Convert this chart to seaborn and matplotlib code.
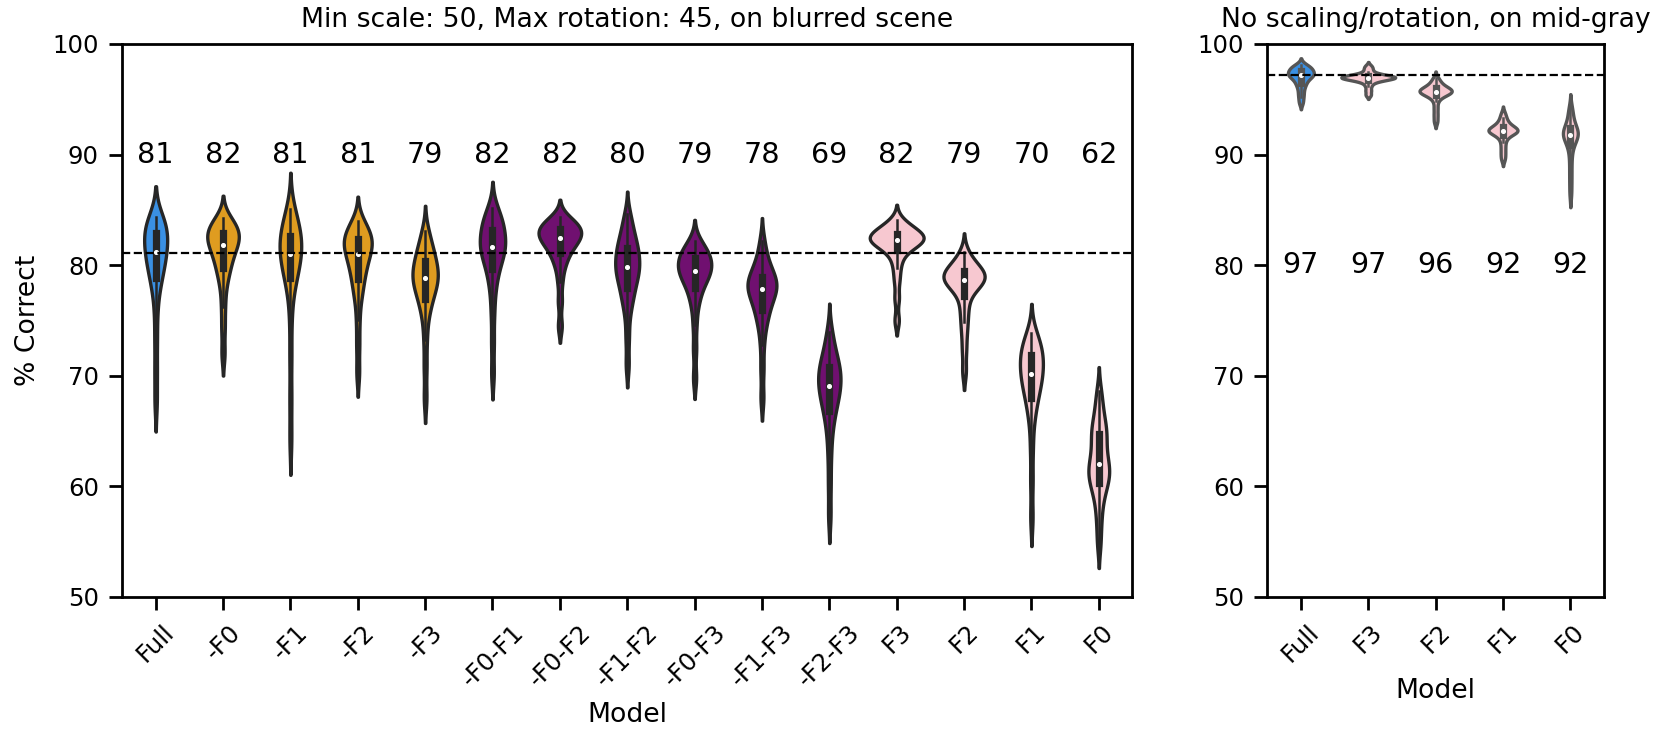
import pandas as pd
import numpy as np
import matplotlib
matplotlib.use("Agg")
import matplotlib.pyplot as plt
import seaborn as sns

# per-model % correct values (left: blurred scene, 15 models)
left_models = ['Full', '-F0', '-F1', '-F2', '-F3', '-F0-F1', '-F0-F2', '-F1-F2',
               '-F0-F3', '-F1-F3', '-F2-F3', 'F3', 'F2', 'F1', 'F0']
full_l = [67.7, 70.5, 73.3, 75.8, 77.6, 78.4, 79.0, 79.5, 79.9, 80.3, 80.7, 81.0, 81.3, 81.6, 81.9, 82.2, 82.5, 82.8, 83.1, 83.4, 83.7, 83.9, 84.1, 84.4]
m_f0 = [72.0, 74.3, 76.2, 77.8, 78.8, 79.4, 79.9, 80.3, 80.7, 81.1, 81.4, 81.7, 81.9, 82.1, 82.3, 82.5, 82.7, 82.9, 83.1, 83.3, 83.5, 83.7, 84.0, 84.3]
m_f1 = [64.3, 68.0, 71.8, 75.2, 77.6, 78.4, 79.0, 79.5, 79.9, 80.3, 80.6, 80.9, 81.2, 81.5, 81.8, 82.0, 82.3, 82.6, 82.9, 83.2, 83.6, 84.0, 84.5, 85.1]
m_f2 = [70.3, 72.8, 75.0, 76.8, 77.6, 78.3, 78.9, 79.4, 79.8, 80.2, 80.6, 80.9, 81.2, 81.5, 81.7, 81.9, 82.1, 82.3, 82.5, 82.7, 83.0, 83.3, 83.6, 84.0]
m_f3 = [68.0, 70.8, 73.2, 75.0, 76.0, 76.6, 77.1, 77.5, 77.9, 78.2, 78.5, 78.7, 78.9, 79.1, 79.4, 79.7, 80.0, 80.3, 80.6, 80.9, 81.3, 81.8, 82.4, 83.1]
m_f0f1 = [70.2, 73.0, 75.5, 77.3, 78.5, 79.2, 79.8, 80.3, 80.7, 81.0, 81.3, 81.5, 81.7, 81.9, 82.2, 82.5, 82.8, 83.1, 83.4, 83.7, 84.0, 84.3, 84.7, 85.2]
m_f0f2 = [74.5, 76.7, 78.5, 79.7, 80.3, 80.8, 81.2, 81.5, 81.75, 82.0, 82.2, 82.35, 82.5, 82.65, 82.8, 82.95, 83.1, 83.25, 83.4, 83.55, 83.7, 83.9, 84.1, 84.4]
m_f1f2 = [71.0, 73.4, 75.3, 76.5, 77.0, 77.6, 78.1, 78.5, 78.9, 79.2, 79.5, 79.7, 80.0, 80.3, 80.6, 80.9, 81.2, 81.5, 81.8, 82.2, 82.6, 83.1, 83.8, 84.6]
m_f0f3 = [69.8, 72.4, 74.6, 76.2, 77.0, 77.6, 78.1, 78.5, 78.8, 79.0, 79.2, 79.4, 79.6, 79.8, 80.0, 80.2, 80.4, 80.6, 80.8, 81.0, 81.2, 81.5, 81.8, 82.2]
m_f1f3 = [68.0, 70.6, 72.8, 74.3, 75.0, 75.6, 76.1, 76.5, 76.9, 77.2, 77.5, 77.7, 77.9, 78.1, 78.3, 78.5, 78.7, 78.9, 79.2, 79.5, 79.9, 80.4, 81.1, 82.2]
m_f2f3 = [57.4, 60.2, 62.6, 64.4, 65.6, 66.4, 67.0, 67.5, 67.9, 68.3, 68.6, 68.9, 69.2, 69.5, 69.8, 70.1, 70.4, 70.7, 71.0, 71.3, 71.7, 72.3, 73.1, 74.0]
only_f3 = [75.0, 77.0, 78.6, 79.7, 80.5, 81.1, 81.5, 81.7, 81.85, 82.0, 82.1, 82.2, 82.3, 82.4, 82.5, 82.6, 82.7, 82.8, 82.95, 83.1, 83.25, 83.45, 83.7, 84.1]
only_f2 = [70.4, 72.3, 73.8, 74.9, 75.8, 76.6, 77.4, 77.8, 78.1, 78.3, 78.45, 78.6, 78.7, 78.8, 78.95, 79.1, 79.25, 79.4, 79.55, 79.7, 79.9, 80.2, 80.6, 81.2]
only_f1 = [57.2, 60.5, 63.4, 65.6, 66.8, 67.5, 68.1, 68.6, 69.0, 69.4, 69.7, 70.0, 70.3, 70.6, 70.9, 71.2, 71.5, 71.8, 72.1, 72.4, 72.7, 73.0, 73.4, 73.9]
only_f0 = [54.8, 56.5, 57.8, 58.8, 59.5, 60.0, 60.4, 60.7, 61.0, 61.3, 61.6, 61.9, 62.2, 62.6, 63.1, 63.7, 64.2, 64.6, 65.0, 65.4, 65.9, 66.6, 67.5, 68.6]
left_vals = [full_l, m_f0, m_f1, m_f2, m_f3, m_f0f1, m_f0f2, m_f1f2, m_f0f3, m_f1f3,
             m_f2f3, only_f3, only_f2, only_f1, only_f0]
left_means = [81, 82, 81, 81, 79, 82, 82, 80, 79, 78, 69, 82, 79, 70, 62]
left_ref = 81.1
left_colors = ['dodgerblue'] + ['orange'] * 4 + ['purple'] * 6 + ['pink'] * 4

# right: no scaling/rotation, mid-gray background
right_models = ['Full', 'F3', 'F2', 'F1', 'F0']
full_r = [94.7, 95.2, 95.6, 96.0, 96.3, 96.5, 96.7, 96.9, 97.0, 97.1, 97.2, 97.25, 97.3, 97.4, 97.5, 97.6, 97.7, 97.8, 97.9, 98.0, 98.1]
r_f3 = [95.4, 95.8, 96.2, 96.5, 96.65, 96.75, 96.8, 96.85, 96.9, 96.92, 96.95, 96.98, 97.0, 97.03, 97.06, 97.1, 97.15, 97.2, 97.3, 97.5, 97.75, 98.0]
r_f2 = [93.0, 93.6, 94.2, 94.8, 95.2, 95.35, 95.45, 95.55, 95.6, 95.65, 95.7, 95.75, 95.8, 95.85, 95.9, 96.0, 96.1, 96.2, 96.4, 96.6, 96.9]
r_f1 = [89.6, 90.1, 90.6, 91.1, 91.5, 91.75, 91.9, 92.0, 92.05, 92.1, 92.15, 92.2, 92.25, 92.3, 92.4, 92.5, 92.6, 92.8, 93.0, 93.3, 93.7]
r_f0 = [86.5, 87.6, 88.6, 89.6, 90.4, 90.9, 91.2, 91.4, 91.55, 91.7, 91.8, 91.9, 92.0, 92.1, 92.25, 92.4, 92.6, 92.9, 93.3, 93.8, 94.2]
right_vals = [full_r, r_f3, r_f2, r_f1, r_f0]
right_means = [97, 97, 96, 92, 92]
right_ref = 97.2
right_colors = ['dodgerblue'] + ['pink'] * 4


def to_long(models, vals):
    rows = []
    for m, v in zip(models, vals):
        for x in v:
            rows.append((m, x))
    return pd.DataFrame(rows, columns=['Model', 'Correct'])


df_l = to_long(left_models, left_vals)
df_r = to_long(right_models, right_vals)

sns.set_context('paper')
fig, (ax1, ax2) = plt.subplots(1, 2, figsize=(8.275, 3.695), dpi=200,
                               gridspec_kw={'width_ratios': [3, 1]})
fig.subplots_adjust(left=0.0737, right=0.9692, bottom=0.1922, top=0.9405, wspace=0.2)

box_kws = dict(box_width=2.6, whis_width=0.9, marker='o', markersize=1.3)

sns.violinplot(data=df_l, x='Model', y='Correct', hue='Model', order=left_models,
               palette=left_colors, legend=False, linewidth=1.2, linecolor='#262626',
               bw_adjust=0.6, common_norm=True, inner_kws=box_kws, ax=ax1)
ax1.axhline(left_ref, color='black', ls='--', lw=0.8)
for i, m in enumerate(left_means):
    ax1.text(i, 90, str(m), ha='center', va='center', fontsize=10.3)
ax1.set_ylim(50, 100)
ax1.set_ylabel('% Correct')
ax1.set_xlabel('Model')
ax1.set_title('Min scale: 50, Max rotation: 45, on blurred scene')
ax1.tick_params(axis='x', rotation=45)

sns.violinplot(data=df_r, x='Model', y='Correct', hue='Model', order=right_models,
               palette=right_colors, legend=False, linewidth=1.2, linecolor='#555555',
               bw_adjust=0.6, common_norm=True, inner_kws=box_kws, ax=ax2)
ax2.axhline(right_ref, color='black', ls='--', lw=0.8)
for i, m in enumerate(right_means):
    ax2.text(i, 80, str(m), ha='center', va='center', fontsize=10.3)
ax2.set_ylim(50, 100)
ax2.set_ylabel('')
ax2.set_xlabel('Model')
ax2.set_title('No scaling/rotation, on mid-gray')
ax2.tick_params(axis='x', rotation=45)

fig.savefig('out.png', dpi=200)
